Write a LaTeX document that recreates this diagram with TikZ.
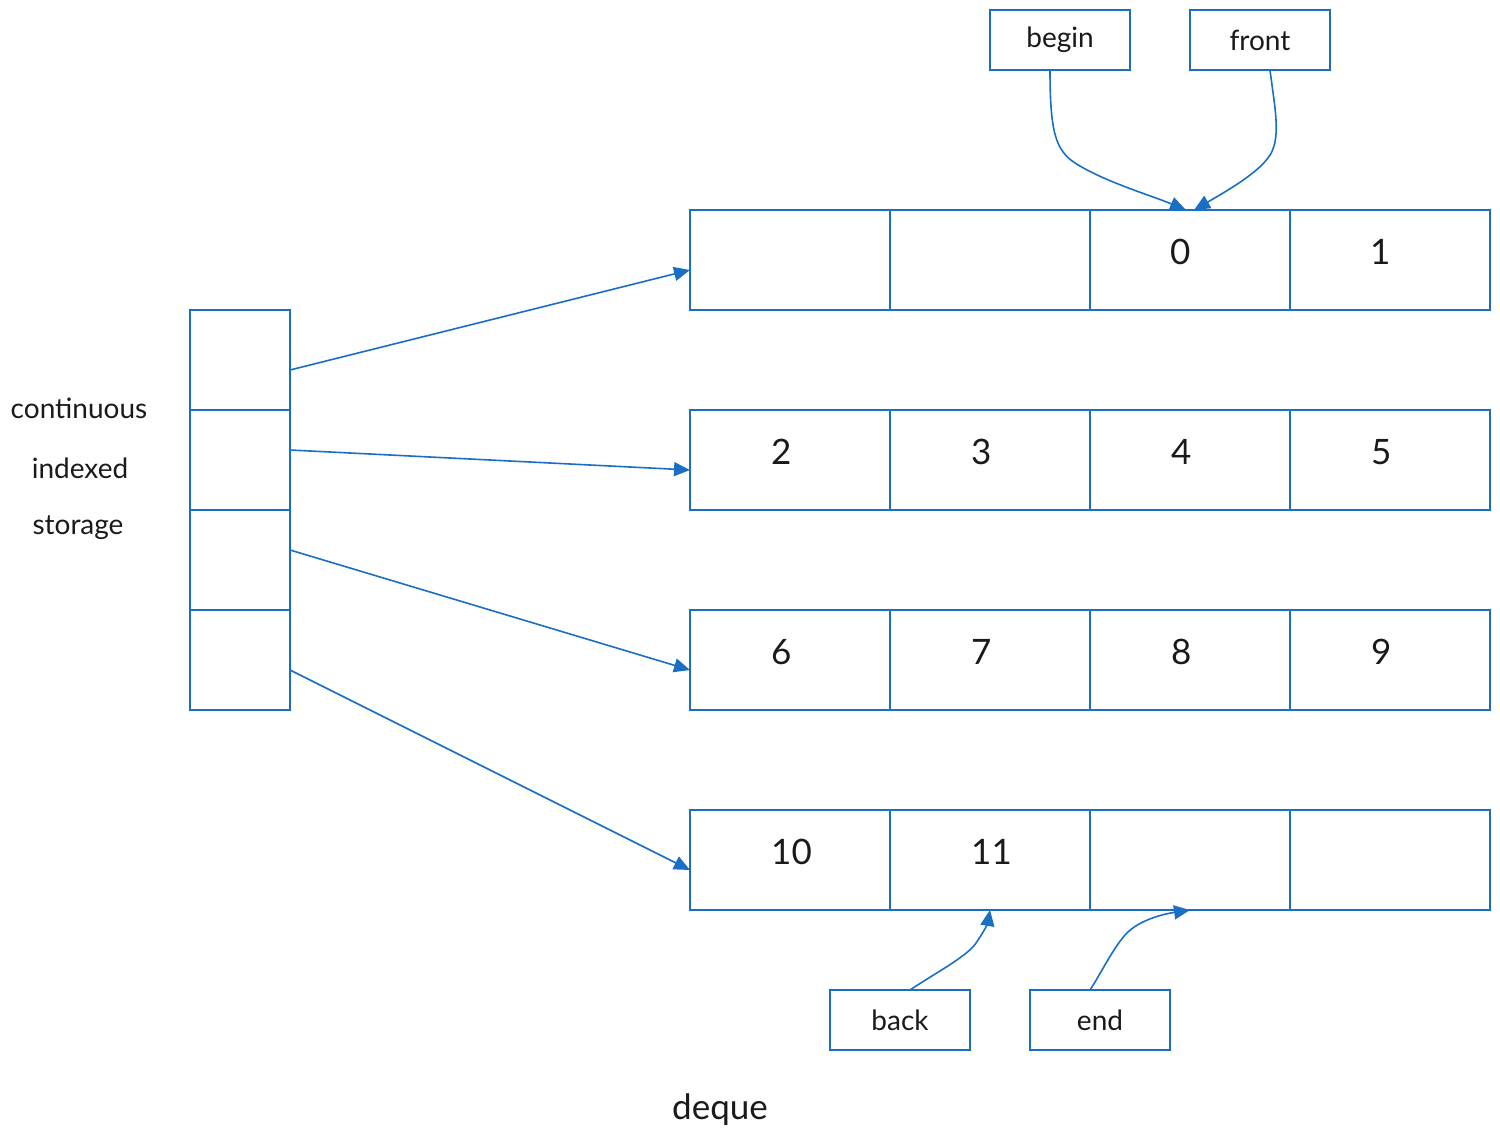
\documentclass[tikz,border=0pt]{standalone}
\usepackage{fontspec}
\setmainfont{Lato}
\usetikzlibrary{arrows.meta,calc}
\definecolor{lineblue}{HTML}{1A6FC4}
\definecolor{txt}{HTML}{1A1A1A}
\begin{document}
\begin{tikzpicture}[x=1pt,y=-1pt,
  cellbox/.style={draw=lineblue,line width=2pt,minimum width=200pt,minimum height=100pt,inner sep=0pt,outer sep=0pt},
  stbox/.style={draw=lineblue,line width=2pt,minimum width=100pt,minimum height=100pt,inner sep=0pt,outer sep=0pt},
  ptrbox/.style={draw=lineblue,line width=2pt,minimum width=140pt,minimum height=60pt,inner sep=0pt,outer sep=0pt,text=txt,font=\fontsize{28}{34}\selectfont},
  numtxt/.style={anchor=west,text=txt,font=\fontsize{35}{42}\selectfont,inner sep=0pt},
  lbl/.style={text=txt,font=\fontsize{28}{34}\selectfont,inner sep=0pt},
  conn/.style={draw=lineblue,line width=1.6pt,-{Triangle[length=16pt,width=14pt]}}
]
\useasboundingbox (0,0) rectangle (1500,1143);
% storage column
\foreach \i/\y in {1/360,2/460,3/560,4/660}{
  \node[stbox] (s\i) at (240,\y) {};
}
% rows of blocks
\foreach \r/\y in {1/260,2/460,3/660,4/860}{
  \foreach \c/\x in {1/790,2/990,3/1190,4/1390}{
    \node[cellbox] (c\r\c) at (\x,\y) {};
  }
}
% numbers
\node[numtxt] (n0) at (1170,252) {0};
\node[numtxt] (n1) at (1370,252) {1};
\node[numtxt] (n2) at (771,452) {2};
\node[numtxt] (n3) at (971,452) {3};
\node[numtxt] (n4) at (1171,452) {4};
\node[numtxt] (n5) at (1371,452) {5};
\node[numtxt] (n6) at (771,652) {6};
\node[numtxt] (n7) at (971,652) {7};
\node[numtxt] (n8) at (1171,652) {8};
\node[numtxt] (n9) at (1371,652) {9};
\node[numtxt] (n10) at (771,852) {10};
\node[numtxt] (n11) at (971,852) {11};
% labels
\node[lbl] (l1) at (79,408) {continuous};
\node[lbl] (l2) at (80,468) {indexed};
\node[lbl] (l3) at (78,528) {storage};
\node[lbl,font=\fontsize{35}{42}\selectfont] (dq) at (720,1110) {deque};
% pointer boxes
\node[ptrbox] (begin) at (1060,40) {begin};
\node[ptrbox] (front) at (1260,40) {front};
\node[ptrbox] (back) at (900,1020) {back};
\node[ptrbox] (end) at (1100,1020) {end};
% storage arrows
\draw[conn] ($(s1.east)+(0,10)$) -- ($(c11.west)+(0,10)$);
\draw[conn] ($(s2.east)+(0,-10)$) -- ($(c21.west)+(0,10)$);
\draw[conn] ($(s3.east)+(0,-10)$) -- ($(c31.west)+(0,10)$);
\draw[conn] ($(s4.east)+(0,10)$) -- ($(c41.west)+(0,10)$);
% iterator arrows
\draw[conn] ($(begin.south)+(-10,0)$) .. controls (1050,130) and (1055,150) .. (1075,163) .. controls (1105,182) and (1150,195) .. ($(c13.north)+(-4,0)$);
\draw[conn] ($(front.south)+(10,0)$) .. controls (1275,110) and (1282,140) .. (1268,158) .. controls (1255,175) and (1225,192) .. ($(c13.north)+(4,0)$);
\draw[conn] ($(back.north)+(10,0)$) .. controls (940,970) and (970,955) .. (978,940) .. controls (985,930) and (988,922) .. (c42.south);
\draw[conn] ($(end.north)+(-10,0)$) .. controls (1100,975) and (1112,950) .. (1125,935) .. controls (1140,918) and (1170,913) .. (c43.south);
\end{tikzpicture}
\end{document}
